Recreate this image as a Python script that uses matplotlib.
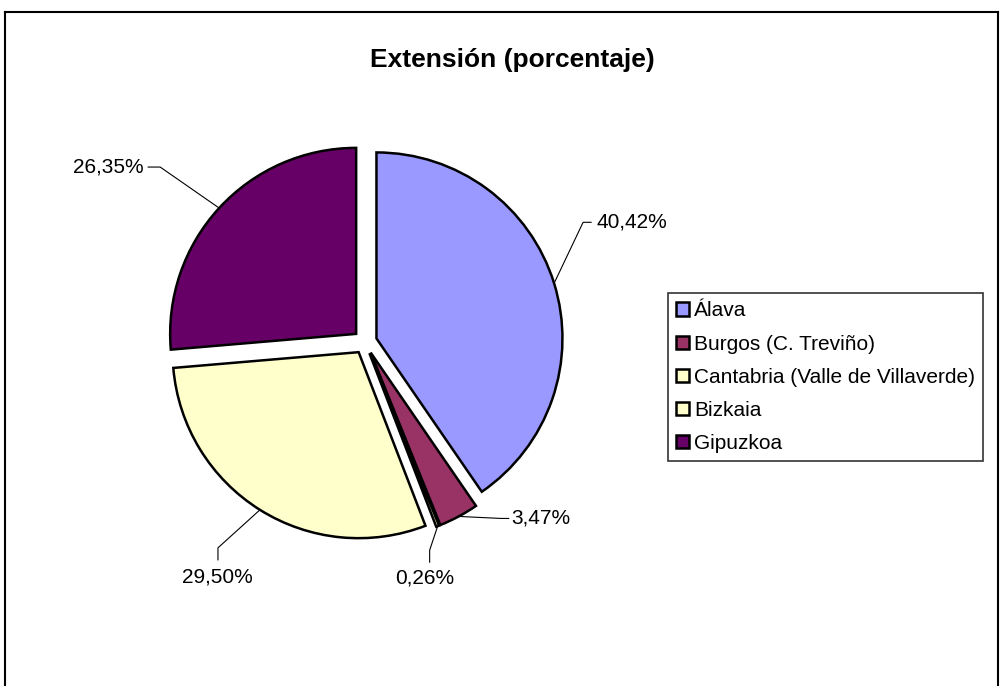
import numpy as np
import matplotlib.pyplot as plt
from matplotlib.lines import Line2D

plt.rcParams['font.family'] = ['Liberation Sans', 'DejaVu Sans']

provincias = ['Álava', 'Burgos (C. Treviño)', 'Cantabria (Valle de Villaverde)',
              'Bizkaia', 'Gipuzkoa']
porcentajes = [40.42, 3.47, 0.26, 29.50, 26.35]
colores = ['#9999FF', '#993366', '#FFFFCC', '#FFFFCC', '#660066']
etiquetas = [('%.2f%%' % v).replace('.', ',') for v in porcentajes]

W, H = 1005, 686
fig = plt.figure(figsize=(W / 100, H / 100), dpi=100)
ax = fig.add_axes([0, 0, 1, 1])

# pie geometry in pixels (y up); explode is in data units here
cx, cy = 365, H - 342
r = 186
expl = 12
wedges, _ = ax.pie(porcentajes, colors=colores, startangle=90, counterclock=False,
                   explode=[expl] * len(porcentajes), radius=r, center=(cx, cy),
                   wedgeprops=dict(edgecolor='black', linewidth=1.8))
ax.set_xlim(0, W)
ax.set_ylim(0, H)
ax.set_aspect('equal')
ax.axis('off')

# leader lines: wedge edge -> elbow -> short segment -> text
mid = np.cumsum(porcentajes) - np.array(porcentajes) / 2
theta = np.deg2rad(mid * 3.6)
ex = cx + (r + expl) * np.sin(theta)
ey = cy + (r + expl) * np.cos(theta)

codo = [(29, 61), (42, -2), (-8, -24), (-42, -38), (-59, 41)]
tramo = [(8, 0), (8, 0), (0, -12), (0, -12), (-12, 0)]
texto = [(5, 0, 'left'), (3, 0, 'left'), (-5, -16, 'center'),
         (-1, -17, 'center'), (-5, 0, 'right')]

for i, lab in enumerate(etiquetas):
    x1, y1 = ex[i] + codo[i][0], ey[i] + codo[i][1]
    x2, y2 = x1 + tramo[i][0], y1 + tramo[i][1]
    ax.plot([ex[i], x1, x2], [ey[i], y1, y2], color='black', lw=0.8)
    ax.text(x2 + texto[i][0], y2 + texto[i][1], lab, ha=texto[i][2], va='center',
            fontsize=15)

fig.text(512 / W, 1 - 60 / H, 'Extensión (porcentaje)', ha='center', va='center',
         fontsize=19, fontweight='bold')

leg = ax.legend(wedges, provincias, loc='upper left',
                bbox_to_anchor=(668 / W, 1 - 293 / H), bbox_transform=fig.transFigure,
                borderaxespad=0, fontsize=15, frameon=True, fancybox=False,
                handlelength=0.6, handleheight=0.6, handletextpad=0.25,
                labelspacing=0.68, borderpad=0.4)
leg.get_frame().set_edgecolor('black')
leg.get_frame().set_linewidth(1.2)

# chart border (bottom cut off)
for xs, ys in [([5, 5], [0, H - 12]), ([5, 998], [H - 12, H - 12]), ([998, 998], [H - 12, 0])]:
    fig.add_artist(Line2D(np.array(xs) / W, np.array(ys) / H, transform=fig.transFigure,
                          color='black', lw=1.5))

fig.savefig('out.png', dpi=100)
